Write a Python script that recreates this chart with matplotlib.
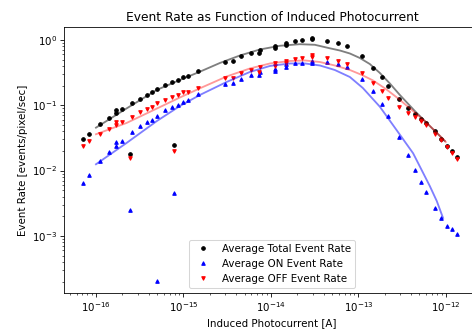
import matplotlib
matplotlib.use("Agg")
import matplotlib.pyplot as plt

# induced photocurrent [A] for each measurement
current = [7.16e-17, 8.3e-17, 1.11e-16, 1.41e-16, 1.68e-16, 1.68e-16, 1.98e-16, 2.43e-16,
           2.58e-16, 3.18e-16, 3.83e-16, 4.37e-16, 4.98e-16, 6.19e-16, 7.45e-16, 7.73e-16,
           8.65e-16, 9.95e-16, 1.125e-15, 1.476e-15, 3.0e-15, 3.65e-15, 4.51e-15, 5.96e-15,
           7.35e-15, 7.48e-15, 1.11e-14, 1.11e-14, 1.47e-14, 1.50e-14, 1.88e-14, 2.24e-14,
           2.97e-14, 2.97e-14, 4.40e-14, 5.87e-14, 7.39e-14, 1.10e-13, 1.47e-13, 1.84e-13,
           2.21e-13, 2.93e-13, 3.68e-13, 4.42e-13, 5.14e-13, 5.86e-13, 7.43e-13, 8.77e-13,
           1.02e-12, 1.17e-12, 1.33e-12]

total_rate = [0.0305, 0.0367, 0.0512, 0.0632, 0.0838, 0.0754, 0.0869, 0.0180,
              0.107, 0.126, 0.142, 0.161, 0.176, 0.202, 0.225, 0.0244,
              0.244, 0.268, 0.281, 0.335, 0.461, 0.472, 0.569, 0.639,
              0.639, 0.703, 0.754, 0.809, 0.838, 0.890, 0.955, 1.0,
              1.036, 1.084, 0.965, 0.90, 0.80, 0.563, 0.377, 0.268,
              0.198, 0.126, 0.0919, 0.0743, 0.0623, 0.0542, 0.040, 0.0308,
              0.0238, 0.020, 0.016]

off_rate = [0.024, 0.0284, 0.0367, 0.0438, 0.0561, 0.0494, 0.0561, 0.0154,
            0.0669, 0.0781, 0.0869, 0.0942, 0.1096, 0.119, 0.133, 0.020,
            0.144, 0.158, 0.162, 0.186, 0.259, 0.259, 0.316, 0.351,
            0.327, 0.386, 0.404, 0.440, 0.449, 0.482, 0.517, 0.530,
            0.549, 0.583, 0.525, 0.482, 0.436, 0.309, 0.222, 0.167,
            0.129, 0.0952, 0.0762, 0.0655, 0.0581, 0.0505, 0.0367, 0.0294,
            0.0227, 0.0189, 0.0149]

# ON rate has one extra measurement
current_on = current + [4.94e-16]
on_rate = [0.0064, 0.00865, 0.0142, 0.0195, 0.0271, 0.024, 0.0287, 0.0025,
           0.0386, 0.0477, 0.0555, 0.0596, 0.0693, 0.0838, 0.0932, 0.00449,
           0.101, 0.112, 0.1205, 0.149, 0.21, 0.217, 0.25, 0.288,
           0.294, 0.324, 0.335, 0.36, 0.39, 0.425, 0.449, 0.449,
           0.449, 0.477, 0.456, 0.429, 0.379, 0.253, 0.164, 0.105,
           0.0686, 0.033, 0.0173, 0.0102, 0.00662, 0.00466, 0.00265, 0.00186,
           0.00143, 0.00126, 0.00108, 2.02e-4]

# fitted curves
fit_total_x = [1e-16, 2.14e-16, 4.94e-16, 9.12e-16, 1.545e-15, 2.61e-15, 4.43e-15, 7.48e-15,
               1.268e-14, 2.14e-14, 3.18e-14, 4.72e-14, 6.15e-14, 8.0e-14, 1.04e-13, 1.35e-13,
               1.76e-13, 2.29e-13, 2.98e-13, 4.42e-13, 6.56e-13, 9.75e-13]
fit_total_y = [0.0454, 0.0862, 0.1715, 0.244, 0.327, 0.444, 0.579, 0.715,
               0.815, 0.862, 0.844, 0.746, 0.69, 0.621, 0.530, 0.429,
               0.313, 0.216, 0.144, 0.0818, 0.0482, 0.0284]

fit_off_x = [1e-16, 2.24e-16, 4.98e-16, 9.12e-16, 1.545e-15, 3.12e-15, 5.75e-15, 9.75e-15,
             1.65e-14, 2.45e-14, 3.63e-14, 5.38e-14, 8.0e-14, 1.10e-13, 1.47e-13, 2.06e-13,
             2.9e-13, 4.08e-13, 5.86e-13, 8.77e-13, 1.0e-12]
fit_off_y = [0.036, 0.0536, 0.0893, 0.1316, 0.182, 0.276, 0.366, 0.4366,
             0.477, 0.4855, 0.460, 0.407, 0.347, 0.291, 0.24, 0.178,
             0.125, 0.0847, 0.0561, 0.033, 0.0274]

fit_on_x = [1e-16, 2.24e-16, 4.98e-16, 9.12e-16, 1.545e-15, 3.12e-15, 5.75e-15, 9.75e-15,
            1.65e-14, 2.45e-14, 3.63e-14, 5.38e-14, 8.0e-14, 1.125e-13, 1.76e-13, 2.73e-13,
            4.23e-13, 6.56e-13, 7.88e-13, 9.3e-13]
fit_on_y = [0.01249, 0.0265, 0.0575, 0.0975, 0.144, 0.2275, 0.3236, 0.4,
            0.4366, 0.4366, 0.407, 0.347, 0.271, 0.184, 0.0952, 0.0419,
            0.0184, 0.0058, 0.00342, 0.00188]

x_ticks = [1e-16, 1e-15, 1e-14, 1e-13, 1e-12]
y_ticks = [1e-3, 1e-2, 1e-1, 1e0]

fig = plt.figure(figsize=(6.4, 4.502), dpi=73.75)
ax = fig.add_axes([0.1356, 0.1166, 0.881, 0.802])

ax.loglog(current, total_rate, "o", color="black", ms=3.5, label="Average Total Event Rate")
ax.loglog(current_on, on_rate, "^", color="blue", ms=3.5, label="Average ON Event Rate")
ax.loglog(current, off_rate, "v", color="red", ms=3.5, label="Average OFF Event Rate")

ax.plot(fit_total_x, fit_total_y, color="black", alpha=0.5, lw=1.8)
ax.plot(fit_off_x, fit_off_y, color="red", alpha=0.4, lw=1.8)
ax.plot(fit_on_x, fit_on_y, color="blue", alpha=0.5, lw=1.8)

ax.set_xticks(x_ticks)
ax.set_yticks(y_ticks)
ax.set_xlim(4.31e-17, 2.45e-12)
ax.set_ylim(1.32e-4, 1.58)

ax.set_title("Event Rate as Function of Induced Photocurrent")
ax.set_xlabel("Induced Photocurrent [A]")
ax.set_ylabel("Event Rate [events/pixel/sec]")
ax.legend(loc="lower center")

fig.savefig("out.png", dpi=73.75)
